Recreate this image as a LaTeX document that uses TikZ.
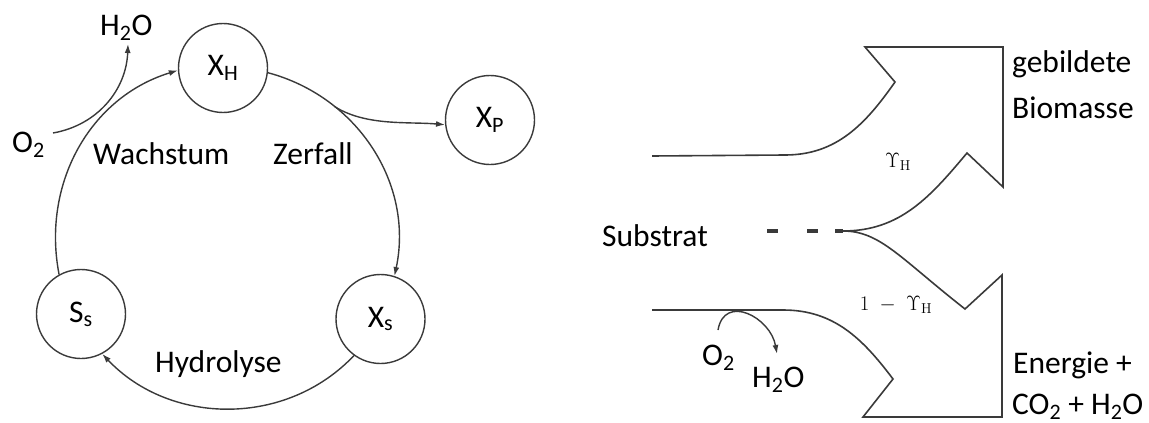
\documentclass[tikz,border=0pt]{standalone}
\usepackage[no-math]{fontspec}
\setmainfont{Carlito}
\usetikzlibrary{arrows.meta}
\newcommand\lblfont{\fontsize{31.5}{38}\selectfont}
\newcommand\yfont{\fontsize{22}{24}\selectfont}
\definecolor{linec}{HTML}{3A3A3A}
\begin{document}
\begin{tikzpicture}[x=1pt,y=-1pt,
  state/.style={circle, draw=linec, line width=1.4pt, minimum size=89pt, inner sep=0pt, font=\lblfont},
  lab/.style={anchor=base west, inner sep=0pt, font=\lblfont},
  ylab/.style={anchor=center, inner sep=0pt, font=\yfont},
  conn/.style={draw=linec, line width=1.4pt, -{Latex[length=9pt,width=6pt]}},
  outline/.style={draw=linec, line width=1.6pt, line join=miter},
  thickdash/.style={draw=linec, line width=4.5pt}]
\useasboundingbox (0,0) rectangle (1149,423);

% ---------- left: cycle ----------
\node[state] (XH) at (223,68)    {X\textsubscript{H}};
\node[state] (XP) at (490,120)   {X\textsubscript{P}};
\node[state] (Ss) at (81,314)    {S\textsubscript{s}};
\node[state] (Xs) at (380.5,319) {X\textsubscript{s}};

\node[lab] (H2Ol) at (100,35)  {H\textsubscript{2}O};
\node[lab] (O2l)  at (12,152)  {O\textsubscript{2}};
\node[lab] (wach) at (93,164)  {Wachstum};
\node[lab] (zerf) at (273,164) {Zerfall};
\node[lab] (hydr) at (155,372) {Hydrolyse};

\draw[conn] (Ss.119) to[out=101,in=197] (XH.183);
\draw[conn] (XH.-6) to[out=-15,in=78] coordinate[pos=0.28] (br) (Xs.72);
\draw[conn] (Xs.234) to[out=226.6,in=-46.6] (Ss.-62);
\draw[conn] (br) to[out=-32,in=175,looseness=0.85] (XP.186);

\coordinate (o2a) at (53,133);
\coordinate (h2oa) at (128,44);
\draw[conn] (o2a) to[out=10,in=-92] (h2oa);

% ---------- right: substrate split ----------
\node[lab] (subs) at (602,246)  {Substrat};
\node[lab] (geb)  at (1012,72)  {gebildete};
\node[lab] (bio)  at (1012,118) {Biomasse};
\node[lab] (ener) at (1013,373) {Energie +};
\node[lab] (co2)  at (1012,414) {CO\textsubscript{2} + H\textsubscript{2}O};
\node[ylab] (yh)  at (898,162)  {$\Upsilon_{\mathrm{H}}$};
\node[ylab] (y1h) at (896,305)  {$1\;-\;\Upsilon_{\mathrm{H}}$};

\node[lab] (O2r)  at (702,365) {O\textsubscript{2}};
\node[lab] (H2Or) at (752,387) {H\textsubscript{2}O};

\draw[outline] (652,156) -- (785,155) to[out=0,in=-125] (895,82)
  -- (865,47) -- (1003,47) -- (1003,187) -- (967,153)
  to[out=-130,in=0] (843,231)
  .. controls (880,231) and (900,258) .. (965,309)
  -- (1002,275) -- (1002,417) -- (863,417) -- (893,379)
  to[out=127,in=0] (783,310) -- (652,310);

\draw[thickdash] (767,231) -- (778,231);
\draw[thickdash] (807,231) -- (818,231);
\draw[thickdash] (835,231) -- (843,231);

\coordinate (o2b) at (718,330);
\coordinate (h2ob) at (777,354);
\draw[conn] (o2b) to[out=80,in=100,looseness=1.5] (h2ob);
\end{tikzpicture}
\end{document}
